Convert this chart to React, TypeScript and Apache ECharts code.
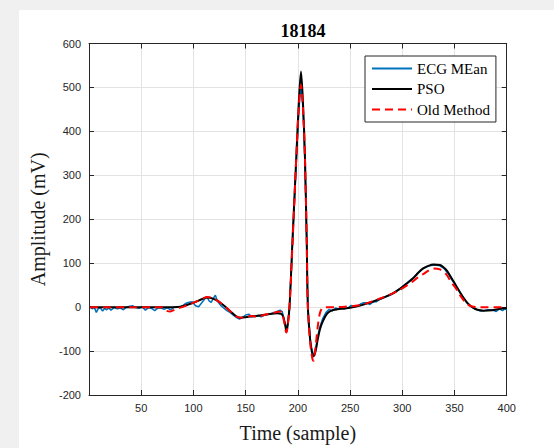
import React, { useEffect, useRef } from "react";
import * as echarts from "echarts";

const chartTitle = "18184";
const seriesNames = ["ECG MEan", "PSO", "Old Method"];
const xAxisName = "Time (sample)";
const yAxisName = "Amplitude (mV)";

const ecgMean: [number, number][] = [
  [1, 2], [3, -4], [5, 0], [7, -12], [9, -3], [11, -2], [13, -9], [15, -3], [17, -6], [19, -2],
  [21, -7], [24, -1], [27, -4], [30, -2], [33, -6], [36, 0], [39, 2], [42, 3], [45, -1], [48, -3],
  [51, 1], [54, -7], [57, -1], [60, -3], [63, -8], [66, -2], [69, -2], [72, -5], [75, -1], [78, -6],
  [81, -1], [84, 0], [87, 1], [90, 4], [93, 9], [96, 11], [99, 12], [102, 3], [105, 1], [108, 10],
  [111, 19], [113, 23], [115, 14], [117, 11], [119, 20], [121, 27], [123, 14], [126, 4], [129, -2],
  [132, -8], [135, -12], [138, -18], [141, -23], [144, -27], [147, -24], [150, -18], [153, -16],
  [156, -22], [159, -20], [162, -19], [165, -22], [168, -18], [171, -17], [174, -15], [177, -13],
  [180, -10], [183, -7], [185, -10], [187, -30], [189, -52], [190, -45], [192, 0], [195, 150],
  [198.5, 330], [201, 450], [203, 505], [205, 450], [206.8, 330], [208.5, 150], [209.6, 0],
  [212, -75], [214, -105], [215, -108], [217, -95], [219, -68], [221, -45], [224, -25], [227, -12],
  [230, -5], [233, -9], [236, -2], [239, -4], [242, -1], [245, -4], [248, -2], [251, 4], [254, 2],
  [257, 3], [260, 7], [263, 10], [266, 10], [269, 6], [272, 12], [275, 12], [278, 17], [281, 20],
  [284, 23], [287, 26], [290, 29], [294, 35], [298, 42], [302, 50], [306, 58], [311, 68], [315, 78],
  [320, 88], [324, 93], [328, 95], [332, 96], [336, 94], [340, 88], [344, 76], [347, 64], [351, 50],
  [355, 34], [359, 20], [362, 9], [366, 1], [370, -5], [374, -8], [378, -8], [382, -6], [386, -6],
  [390, -10], [393, -4], [396, -8], [398, -4], [400, -6],
];

const pso: [number, number][] = [
  [1, 0], [20, 0], [40, 0], [60, 0], [80, 0], [88, 1], [95, 6], [102, 12], [108, 18], [113, 22],
  [118, 20], [124, 13], [130, 2], [136, -11], [141, -21], [145, -24], [150, -23], [160, -20],
  [170, -17], [180, -14], [184, -15], [186, -22], [188, -42], [189, -55], [190, -45], [192, 0],
  [195, 160], [198.5, 341], [201, 470], [203, 536], [205, 460], [206.8, 341], [208.5, 150],
  [209.6, 0], [212, -80], [214, -108], [215, -112], [217, -100], [219, -74], [221, -52], [224, -32],
  [228, -15], [232, -8], [238, -5], [245, -3], [255, 1], [266, 8], [278, 18], [290, 30], [298, 42],
  [305, 55], [311, 67], [316, 80], [320, 88], [325, 94], [330, 97], [336, 96], [342, 85], [347, 67],
  [351, 51], [355, 35], [359, 20], [363, 8], [367, 0], [372, -6], [378, -8], [386, -7], [393, -4],
  [400, -2],
];

const oldMethod: [number, number][] = [
  [1, 0], [20, 0], [40, 0], [60, 0], [70, 0], [74, -8], [78, -10], [82, -6], [89, 0], [95, 5],
  [102, 12], [108, 18], [113, 23], [118, 21], [124, 13], [130, 2], [136, -11], [141, -21],
  [145, -24], [150, -23], [155, -20], [161, -22], [166, -19], [172, -15], [178, -12], [183, -10],
  [185, -15], [187, -35], [189, -58], [190, -48], [192, 0], [195, 150], [198.5, 341], [201, 460],
  [203, 505], [205, 450], [206.8, 341], [208.5, 150], [209.6, 0], [212, -85], [214, -118],
  [215, -122], [217, -90], [219, -45], [221, -15], [223, -3], [226, 0], [235, 0], [245, 1],
  [255, 3], [265, 8], [278, 19], [290, 30], [298, 40], [305, 50], [311, 60], [316, 70], [320, 75],
  [325, 83], [330, 88], [336, 86], [342, 75], [347, 56], [351, 44], [354, 32], [358, 18],
  [362, 7], [366, 2], [371, 0], [380, 0], [390, 0], [400, 0],
];

const xMin = 0;
const xMax = 400;
const xStep = 50;
const yMin = -200;
const yMax = 600;
const yStep = 100;

export default function App() {
  const ref = useRef<HTMLDivElement>(null);

  useEffect(() => {
    document.body.style.margin = "0";
    if (!ref.current) return;
    const chart = echarts.init(ref.current, null, { renderer: "svg" });
    const axisColor = "#262626";
    const tickFont = { fontFamily: "Liberation Sans", fontSize: 11, color: axisColor };
    const labelFont = { fontFamily: "Liberation Serif", fontSize: 20, color: "#1a1a1a" };
    chart.setOption({
      animation: false,
      backgroundColor: "#f0f0f0",
      graphic: [
        {
          type: "rect",
          shape: { x: 19, y: 10, width: 535, height: 438 },
          style: { fill: "#ffffff" },
          z: -10,
          silent: true,
        },
      ],
      title: {
        text: chartTitle,
        left: 298,
        top: 17,
        textAlign: "center",
        textStyle: { fontFamily: "Liberation Serif", fontSize: 18, fontWeight: "bold", color: "#000" },
      },
      legend: {
        orient: "vertical",
        left: 365,
        top: 56,
        padding: [5, 6, 5, 6],
        itemGap: 5.5,
        itemWidth: 40,
        itemHeight: 14,
        borderColor: axisColor,
        borderWidth: 1,
        borderRadius: 0,
        backgroundColor: "#ffffff",
        itemStyle: { opacity: 0 },
        data: seriesNames,
        textStyle: { fontFamily: "Liberation Serif", fontSize: 15, color: "#000" },
      },
      grid: { left: 89, right: 47.3, top: 43.5, bottom: 45.5 },
      xAxis: [
        {
          type: "value",
          min: xMin,
          max: xMax,
          interval: xStep,
          name: xAxisName,
          nameLocation: "middle",
          nameGap: 28,
          nameTextStyle: labelFont,
          axisLine: { show: true, onZero: false, lineStyle: { color: axisColor, width: 1 } },
          axisTick: { show: true, inside: true, length: 5, lineStyle: { color: axisColor } },
          axisLabel: {
            ...tickFont,
            margin: 7,
            formatter: (v: number) => (v === 0 ? "" : String(v)),
          },
          splitLine: { show: true, lineStyle: { color: "#e3e3e3", width: 1 } },
        },
        {
          type: "value",
          position: "top",
          min: xMin,
          max: xMax,
          interval: xStep,
          axisLine: { show: true, onZero: false, lineStyle: { color: axisColor, width: 1 } },
          axisTick: { show: true, inside: true, length: 5, lineStyle: { color: axisColor } },
          axisLabel: { show: false },
          splitLine: { show: false },
        },
      ],
      yAxis: [
        {
          type: "value",
          min: yMin,
          max: yMax,
          interval: yStep,
          name: yAxisName,
          nameLocation: "middle",
          nameGap: 25,
          nameTextStyle: labelFont,
          axisLine: { show: true, onZero: false, lineStyle: { color: axisColor, width: 1 } },
          axisTick: { show: true, inside: true, length: 5, lineStyle: { color: axisColor } },
          axisLabel: { ...tickFont, margin: 8 },
          splitLine: { show: true, lineStyle: { color: "#e3e3e3", width: 1 } },
        },
        {
          type: "value",
          position: "right",
          min: yMin,
          max: yMax,
          interval: yStep,
          axisLine: { show: true, onZero: false, lineStyle: { color: axisColor, width: 1 } },
          axisTick: { show: true, inside: true, length: 5, lineStyle: { color: axisColor } },
          axisLabel: { show: false },
          splitLine: { show: false },
        },
      ],
      series: [
        {
          name: seriesNames[0],
          type: "line",
          data: ecgMean,
          symbol: "none",
          lineStyle: { color: "#0072BD", width: 1.5 },
          itemStyle: { color: "#0072BD" },
          z: 2,
        },
        {
          name: seriesNames[1],
          type: "line",
          data: pso,
          symbol: "none",
          smooth: 0.3,
          lineStyle: { color: "#000000", width: 2 },
          itemStyle: { color: "#000000" },
          z: 3,
        },
        {
          name: seriesNames[2],
          type: "line",
          data: oldMethod,
          symbol: "none",
          smooth: 0.3,
          lineStyle: { color: "#ff0000", width: 2, type: [8, 5] },
          itemStyle: { color: "#ff0000" },
          z: 4,
        },
      ],
    });
    return () => chart.dispose();
  }, []);

  return <div ref={ref} style={{ width: 554, height: 448 }} />;
}
